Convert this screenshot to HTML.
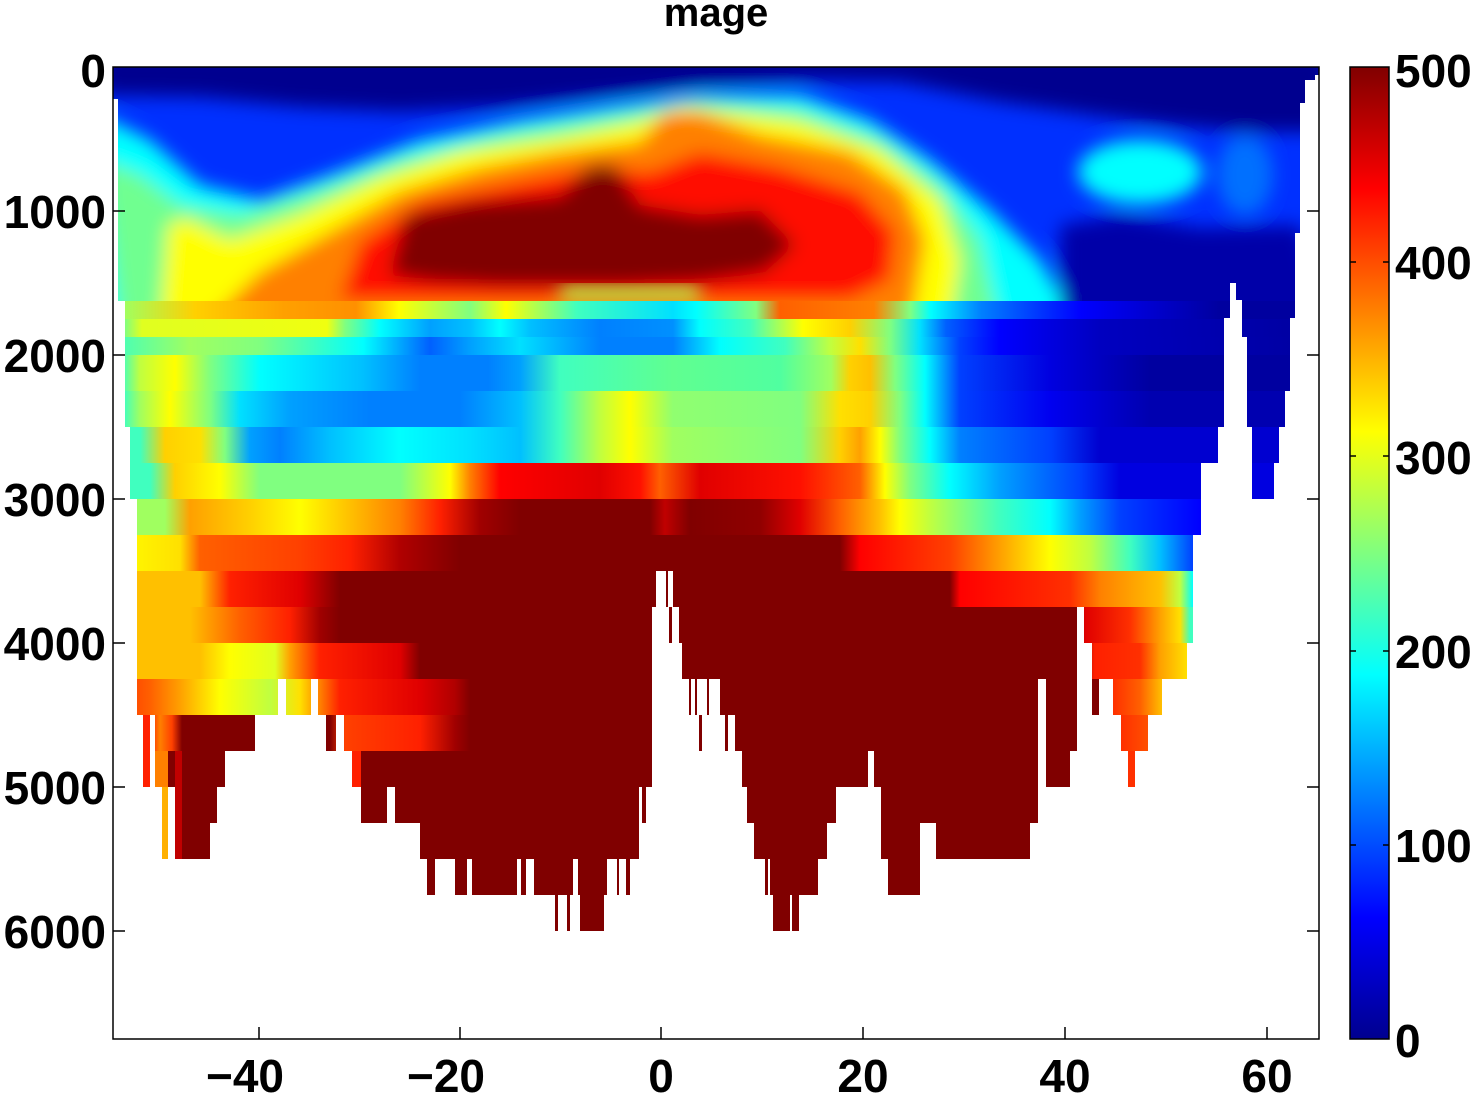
<!DOCTYPE html>
<html><head><meta charset="utf-8"><style>
html,body{margin:0;padding:0;background:#fff;}
svg{display:block;}
text{font-family:"Liberation Sans",Arial,sans-serif;font-weight:bold;fill:#000;}
</style></head><body>
<svg width="1475" height="1094" viewBox="0 0 1475 1094" xmlns="http://www.w3.org/2000/svg">
<defs>
<filter id="bl" x="-20%" y="-20%" width="140%" height="140%"><feGaussianBlur stdDeviation="9"/></filter>
<clipPath id="cu"><rect x="113" y="67" width="1206" height="234"/></clipPath>
<linearGradient id="g1" gradientUnits="userSpaceOnUse" x1="0" y1="0" x2="2000" y2="0">
<stop offset="5.65%" stop-color="#40ffbf"/><stop offset="6.2%" stop-color="#a0ff60"/><stop offset="9.75%" stop-color="#ffd000"/><stop offset="14.2%" stop-color="#ffa000"/><stop offset="17.8%" stop-color="#ff9000"/><stop offset="19.95%" stop-color="#ffff00"/><stop offset="23.5%" stop-color="#80ff80"/><stop offset="25.3%" stop-color="#ffff00"/><stop offset="28.85%" stop-color="#40ffbf"/><stop offset="33.65%" stop-color="#00e0ff"/><stop offset="34.8%" stop-color="#00ffff"/><stop offset="37.8%" stop-color="#80ff80"/><stop offset="39%" stop-color="#ff6000"/><stop offset="43.7%" stop-color="#ff8000"/><stop offset="45.5%" stop-color="#80ff80"/><stop offset="46.55%" stop-color="#00ffff"/><stop offset="49.05%" stop-color="#0080ff"/><stop offset="54.05%" stop-color="#0000ff"/><stop offset="61%" stop-color="#00009f"/></linearGradient>
<linearGradient id="g2" gradientUnits="userSpaceOnUse" x1="0" y1="0" x2="2000" y2="0">
<stop offset="5.65%" stop-color="#40ffbf"/><stop offset="7.1%" stop-color="#e0ff20"/><stop offset="16.35%" stop-color="#f0ff10"/><stop offset="17.25%" stop-color="#80ff80"/><stop offset="19%" stop-color="#00ffff"/><stop offset="21.5%" stop-color="#00a0ff"/><stop offset="23.5%" stop-color="#00c0ff"/><stop offset="25%" stop-color="#00ffff"/><stop offset="26.5%" stop-color="#00c0ff"/><stop offset="30%" stop-color="#0080ff"/><stop offset="33.65%" stop-color="#0090ff"/><stop offset="35%" stop-color="#00ffff"/><stop offset="37.5%" stop-color="#40ffbf"/><stop offset="40.15%" stop-color="#ffff00"/><stop offset="42.5%" stop-color="#ffd000"/><stop offset="44.5%" stop-color="#80ff80"/><stop offset="46%" stop-color="#00e0ff"/><stop offset="47.3%" stop-color="#0060ff"/><stop offset="50%" stop-color="#0000ff"/><stop offset="55%" stop-color="#0000c0"/><stop offset="65.95%" stop-color="#00009f"/></linearGradient>
<linearGradient id="g3" gradientUnits="userSpaceOnUse" x1="0" y1="0" x2="2000" y2="0">
<stop offset="5.65%" stop-color="#40ffbf"/><stop offset="9.5%" stop-color="#a0ff60"/><stop offset="13%" stop-color="#80ff80"/><stop offset="18.15%" stop-color="#00ffff"/><stop offset="21.5%" stop-color="#0060ff"/><stop offset="23.5%" stop-color="#00a0ff"/><stop offset="26%" stop-color="#00e0ff"/><stop offset="30%" stop-color="#0080ff"/><stop offset="33.65%" stop-color="#0080ff"/><stop offset="36%" stop-color="#00ffff"/><stop offset="39.25%" stop-color="#40ffbf"/><stop offset="41.5%" stop-color="#c0ff40"/><stop offset="43%" stop-color="#ffe000"/><stop offset="44.5%" stop-color="#80ff80"/><stop offset="46%" stop-color="#00e0ff"/><stop offset="48%" stop-color="#0040ff"/><stop offset="50%" stop-color="#0000ff"/><stop offset="55%" stop-color="#0000c0"/><stop offset="65.95%" stop-color="#0000a0"/></linearGradient>
<linearGradient id="g4" gradientUnits="userSpaceOnUse" x1="0" y1="0" x2="2000" y2="0">
<stop offset="5.65%" stop-color="#00ffff"/><stop offset="7%" stop-color="#c0ff40"/><stop offset="8.75%" stop-color="#ffff00"/><stop offset="10.5%" stop-color="#80ff80"/><stop offset="13%" stop-color="#00ffff"/><stop offset="18.15%" stop-color="#00c0ff"/><stop offset="21%" stop-color="#0080ff"/><stop offset="24.4%" stop-color="#0080ff"/><stop offset="26%" stop-color="#00a0ff"/><stop offset="28%" stop-color="#40ffbf"/><stop offset="33.65%" stop-color="#60ff90"/><stop offset="39%" stop-color="#50ffa0"/><stop offset="41.55%" stop-color="#a0ff60"/><stop offset="42.5%" stop-color="#ffd000"/><stop offset="43.5%" stop-color="#ffc000"/><stop offset="44.75%" stop-color="#80ff80"/><stop offset="46.25%" stop-color="#00ffff"/><stop offset="48%" stop-color="#0040ff"/><stop offset="52.5%" stop-color="#0000e0"/><stop offset="57.5%" stop-color="#0000a0"/></linearGradient>
<linearGradient id="g5" gradientUnits="userSpaceOnUse" x1="0" y1="0" x2="2000" y2="0">
<stop offset="5.65%" stop-color="#00ffff"/><stop offset="7%" stop-color="#a0ff60"/><stop offset="8.5%" stop-color="#ffff00"/><stop offset="10.5%" stop-color="#80ff80"/><stop offset="12%" stop-color="#00e0ff"/><stop offset="14.5%" stop-color="#00a0ff"/><stop offset="18.5%" stop-color="#0080ff"/><stop offset="23%" stop-color="#0080ff"/><stop offset="26%" stop-color="#00c0ff"/><stop offset="28%" stop-color="#40ffbf"/><stop offset="30%" stop-color="#c0ff40"/><stop offset="31.5%" stop-color="#ffff00"/><stop offset="33.65%" stop-color="#90ff70"/><stop offset="40%" stop-color="#80ff80"/><stop offset="42%" stop-color="#ffe000"/><stop offset="43.5%" stop-color="#ffd000"/><stop offset="45%" stop-color="#80ff80"/><stop offset="46.25%" stop-color="#00ffff"/><stop offset="48%" stop-color="#0040ff"/><stop offset="52.5%" stop-color="#0000f0"/><stop offset="57.5%" stop-color="#0000b0"/></linearGradient>
<linearGradient id="g6" gradientUnits="userSpaceOnUse" x1="0" y1="0" x2="2000" y2="0">
<stop offset="5.65%" stop-color="#40ffbf"/><stop offset="7%" stop-color="#40ffbf"/><stop offset="8.25%" stop-color="#ffd000"/><stop offset="10%" stop-color="#ffe000"/><stop offset="11.25%" stop-color="#80ff80"/><stop offset="12.5%" stop-color="#00a0ff"/><stop offset="14%" stop-color="#0080ff"/><stop offset="16.5%" stop-color="#00c0ff"/><stop offset="20%" stop-color="#00ffff"/><stop offset="23.5%" stop-color="#00e0ff"/><stop offset="26%" stop-color="#00c0ff"/><stop offset="28%" stop-color="#40ffbf"/><stop offset="30%" stop-color="#c0ff40"/><stop offset="31.5%" stop-color="#ffff00"/><stop offset="33.65%" stop-color="#a0ff60"/><stop offset="40%" stop-color="#80ff80"/><stop offset="42%" stop-color="#ffd000"/><stop offset="43%" stop-color="#ffa000"/><stop offset="44%" stop-color="#ffff00"/><stop offset="45%" stop-color="#80ff80"/><stop offset="46.5%" stop-color="#00ffff"/><stop offset="48%" stop-color="#0080ff"/><stop offset="52.5%" stop-color="#0040ff"/><stop offset="55%" stop-color="#0000d0"/></linearGradient>
<linearGradient id="g7" gradientUnits="userSpaceOnUse" x1="0" y1="0" x2="2000" y2="0">
<stop offset="5.65%" stop-color="#40ffbf"/><stop offset="7.5%" stop-color="#40ffbf"/><stop offset="8.75%" stop-color="#ffd000"/><stop offset="11%" stop-color="#ffff00"/><stop offset="13%" stop-color="#80ff80"/><stop offset="20%" stop-color="#80ff80"/><stop offset="22.5%" stop-color="#ffff00"/><stop offset="23.5%" stop-color="#ff8000"/><stop offset="25%" stop-color="#ff0000"/><stop offset="30%" stop-color="#e00000"/><stop offset="32%" stop-color="#ff1000"/><stop offset="33%" stop-color="#ff6000"/><stop offset="35%" stop-color="#e00000"/><stop offset="40%" stop-color="#ff1000"/><stop offset="43%" stop-color="#ff6000"/><stop offset="44.25%" stop-color="#ffff00"/><stop offset="45.5%" stop-color="#80ff80"/><stop offset="47.5%" stop-color="#00ffff"/><stop offset="50%" stop-color="#00a0ff"/><stop offset="54%" stop-color="#0040ff"/><stop offset="56%" stop-color="#0000e0"/></linearGradient>
<linearGradient id="g8" gradientUnits="userSpaceOnUse" x1="0" y1="0" x2="2000" y2="0">
<stop offset="5.65%" stop-color="#a0ff60"/><stop offset="8.25%" stop-color="#a0ff60"/><stop offset="9.5%" stop-color="#ffa000"/><stop offset="12.5%" stop-color="#ffd000"/><stop offset="15%" stop-color="#ffff00"/><stop offset="17.5%" stop-color="#ffc000"/><stop offset="20%" stop-color="#ff8000"/><stop offset="22%" stop-color="#ff2000"/><stop offset="24%" stop-color="#a00000"/><stop offset="26%" stop-color="#800000"/><stop offset="32.5%" stop-color="#800000"/><stop offset="33.25%" stop-color="#c00000"/><stop offset="34.5%" stop-color="#800000"/><stop offset="38%" stop-color="#900000"/><stop offset="40%" stop-color="#e00000"/><stop offset="42%" stop-color="#ff6000"/><stop offset="44%" stop-color="#ffc000"/><stop offset="45%" stop-color="#ffff00"/><stop offset="46.5%" stop-color="#c0ff40"/><stop offset="50%" stop-color="#40ffbf"/><stop offset="52.5%" stop-color="#00ffff"/><stop offset="54%" stop-color="#00a0ff"/><stop offset="56%" stop-color="#0040ff"/><stop offset="60%" stop-color="#0000ff"/></linearGradient>
<linearGradient id="g9" gradientUnits="userSpaceOnUse" x1="0" y1="0" x2="2000" y2="0">
<stop offset="5.65%" stop-color="#ffff00"/><stop offset="9%" stop-color="#ffe000"/><stop offset="10%" stop-color="#ff6000"/><stop offset="15%" stop-color="#ff4000"/><stop offset="17.5%" stop-color="#ff2000"/><stop offset="20%" stop-color="#b00000"/><stop offset="23%" stop-color="#800000"/><stop offset="42%" stop-color="#800000"/><stop offset="43%" stop-color="#ff0000"/><stop offset="47.5%" stop-color="#ff4000"/><stop offset="50%" stop-color="#ffa000"/><stop offset="52.5%" stop-color="#ffff00"/><stop offset="54.5%" stop-color="#c0ff40"/><stop offset="56.5%" stop-color="#40ffbf"/><stop offset="58%" stop-color="#00c0ff"/><stop offset="59.65%" stop-color="#0040ff"/></linearGradient>
<linearGradient id="g10" gradientUnits="userSpaceOnUse" x1="0" y1="0" x2="2000" y2="0">
<stop offset="5.65%" stop-color="#ffc000"/><stop offset="10%" stop-color="#ffc000"/><stop offset="11.5%" stop-color="#ff2000"/><stop offset="15%" stop-color="#e00000"/><stop offset="17%" stop-color="#800000"/><stop offset="47.5%" stop-color="#800000"/><stop offset="48%" stop-color="#ff0000"/><stop offset="53.5%" stop-color="#ff3000"/><stop offset="55%" stop-color="#ff8000"/><stop offset="58%" stop-color="#ffc000"/><stop offset="59%" stop-color="#c0ff40"/><stop offset="59.65%" stop-color="#00ffff"/></linearGradient>
<linearGradient id="g11" gradientUnits="userSpaceOnUse" x1="0" y1="0" x2="2000" y2="0">
<stop offset="5.65%" stop-color="#ffc000"/><stop offset="9.5%" stop-color="#ffc000"/><stop offset="12%" stop-color="#ff6000"/><stop offset="14.5%" stop-color="#ff2000"/><stop offset="16%" stop-color="#a00000"/><stop offset="17%" stop-color="#800000"/><stop offset="53.85%" stop-color="#800000"/><stop offset="54.25%" stop-color="#e00000"/><stop offset="56.5%" stop-color="#ff3000"/><stop offset="58%" stop-color="#ffa000"/><stop offset="59%" stop-color="#ffe000"/><stop offset="59.5%" stop-color="#40ffbf"/></linearGradient>
<linearGradient id="g12" gradientUnits="userSpaceOnUse" x1="0" y1="0" x2="2000" y2="0">
<stop offset="5.65%" stop-color="#ffc000"/><stop offset="10%" stop-color="#ffc000"/><stop offset="11.5%" stop-color="#ffff00"/><stop offset="13.75%" stop-color="#e0ff20"/><stop offset="14.5%" stop-color="#ffa000"/><stop offset="16%" stop-color="#ff2000"/><stop offset="20%" stop-color="#e00000"/><stop offset="21%" stop-color="#800000"/><stop offset="53.85%" stop-color="#800000"/><stop offset="54.75%" stop-color="#ff2000"/><stop offset="57%" stop-color="#ff3000"/><stop offset="58%" stop-color="#ffa000"/><stop offset="59.35%" stop-color="#ffe000"/></linearGradient>
<linearGradient id="g13" gradientUnits="userSpaceOnUse" x1="0" y1="0" x2="2000" y2="0">
<stop offset="5.65%" stop-color="#ff3000"/><stop offset="7.5%" stop-color="#ff6000"/><stop offset="9%" stop-color="#ffa000"/><stop offset="11%" stop-color="#ffff00"/><stop offset="13.5%" stop-color="#c0ff40"/><stop offset="15%" stop-color="#ffe000"/><stop offset="16%" stop-color="#ff8000"/><stop offset="17%" stop-color="#ff2000"/><stop offset="21%" stop-color="#e00000"/><stop offset="22.75%" stop-color="#b00000"/><stop offset="23.5%" stop-color="#800000"/><stop offset="55%" stop-color="#800000"/><stop offset="55.65%" stop-color="#ff3000"/><stop offset="57%" stop-color="#ff6000"/><stop offset="58.1%" stop-color="#ffc000"/></linearGradient>
<linearGradient id="g14" gradientUnits="userSpaceOnUse" x1="0" y1="0" x2="2000" y2="0">
<stop offset="5.65%" stop-color="#ff2000"/><stop offset="7.5%" stop-color="#ff2000"/><stop offset="8%" stop-color="#ff8000"/><stop offset="8.6%" stop-color="#ff4000"/><stop offset="9.1%" stop-color="#800000"/><stop offset="16.5%" stop-color="#800000"/><stop offset="17.25%" stop-color="#ff4000"/><stop offset="21%" stop-color="#ff2000"/><stop offset="22.75%" stop-color="#a00000"/><stop offset="23.5%" stop-color="#800000"/><stop offset="55%" stop-color="#800000"/><stop offset="56.05%" stop-color="#ff3000"/><stop offset="57.4%" stop-color="#ff5000"/></linearGradient>
<linearGradient id="cb" x1="0" y1="0" x2="0" y2="1">
<stop offset="0" stop-color="#800000"/><stop offset="0.125" stop-color="#ff0000"/><stop offset="0.375" stop-color="#ffff00"/><stop offset="0.625" stop-color="#00ffff"/><stop offset="0.875" stop-color="#0000ff"/><stop offset="1" stop-color="#00008f"/></linearGradient>
</defs>

<g clip-path="url(#cu)">
<rect x="100" y="60" width="1230" height="260" fill="#0030ff"/>
<g filter="url(#bl)">
<polygon fill="#00ffff" points="100,115 150,140 200,185 260,200 330,175 420,140 520,120 620,105 700,95 800,95 870,120 930,160 990,210 1040,260 1080,330 100,330"/>
<polygon fill="#70ff90" points="100,160 140,175 180,205 240,215 320,190 400,160 500,135 620,115 700,102 800,110 880,140 940,185 980,240 1000,330 120,330"/>
<polygon fill="#ffff00" points="160,330 168,225 185,218 230,240 300,215 380,178 460,152 560,138 640,122 680,105 720,112 800,122 880,150 940,200 960,260 950,330"/>
<polygon fill="#ff8000" points="200,330 260,272 330,232 400,192 480,168 560,152 640,142 665,112 700,112 760,135 850,152 905,190 925,240 910,330"/>
<polygon fill="#ff1000" points="340,300 360,242 420,202 520,182 600,167 650,172 700,152 780,167 860,192 895,232 890,280 850,300"/>
<polygon fill="#800000" points="390,275 405,215 470,202 560,196 590,165 615,165 640,205 700,215 760,210 795,245 765,272 700,282 620,286 500,286 430,282"/>
<ellipse cx="1140" cy="172" rx="62" ry="32" fill="#00ffff"/>
<ellipse cx="1245" cy="175" rx="28" ry="40" fill="#0070ff"/>
<polygon fill="#0000a8" points="1060,225 1120,215 1200,228 1300,225 1330,330 1060,330"/>
<polygon fill="#00008f" points="100,50 1330,50 1330,132 1250,132 1180,126 1100,116 1000,102 900,82 800,80 700,87 600,97 500,107 400,112 300,107 200,97 100,95"/>
</g>
<rect x="560" y="286" width="140" height="15" fill="#b0ff50" filter="url(#bl)"/>
</g>

<rect x="113" y="301" width="1206" height="18" fill="url(#g1)"/>
<rect x="113" y="319" width="1206" height="18" fill="url(#g2)"/>
<rect x="113" y="337" width="1206" height="18" fill="url(#g3)"/>
<rect x="113" y="355" width="1206" height="36" fill="url(#g4)"/>
<rect x="113" y="391" width="1206" height="36" fill="url(#g5)"/>
<rect x="113" y="427" width="1206" height="36" fill="url(#g6)"/>
<rect x="113" y="463" width="1206" height="36" fill="url(#g7)"/>
<rect x="113" y="499" width="1206" height="36" fill="url(#g8)"/>
<rect x="113" y="535" width="1206" height="36" fill="url(#g9)"/>
<rect x="113" y="571" width="1206" height="36" fill="url(#g10)"/>
<rect x="113" y="607" width="1206" height="36" fill="url(#g11)"/>
<rect x="113" y="643" width="1206" height="36" fill="url(#g12)"/>
<rect x="113" y="679" width="1206" height="36" fill="url(#g13)"/>
<rect x="113" y="715" width="1206" height="36" fill="url(#g14)"/>
<rect x="113" y="751" width="1206" height="144" fill="#800000"/>
<rect x="143" y="751" width="7" height="36" fill="#ff2000"/>
<rect x="155" y="751" width="13" height="36" fill="#ff8000"/>
<rect x="162" y="787" width="6" height="72" fill="#ffb000"/>
<rect x="175" y="751" width="7" height="108" fill="#c00000"/>
<rect x="352" y="751" width="9" height="36" fill="#ff2000"/>
<rect x="1128" y="751" width="7" height="36" fill="#ff3000"/>

<g fill="#fff">
<rect x="113" y="99" width="5" height="202"/>
<rect x="113" y="301" width="12" height="126"/>
<rect x="113" y="427" width="17" height="72"/>
<rect x="113" y="499" width="24" height="216"/>
<rect x="113" y="715" width="30" height="72"/>
<rect x="150" y="715" width="5" height="72"/>
<rect x="113" y="787" width="49" height="72"/>
<rect x="168" y="787" width="7" height="72"/>
<rect x="113" y="895" width="1206" height="144"/>
<rect x="113" y="859" width="314" height="36"/>
<rect x="435" y="859" width="20" height="36"/>
<rect x="467" y="859" width="5" height="36"/>
<rect x="517" y="859" width="4" height="36"/>
<rect x="526" y="859" width="8" height="36"/>
<rect x="573" y="859" width="5" height="36"/>
<rect x="607" y="859" width="10" height="36"/>
<rect x="619" y="859" width="7" height="36"/>
<rect x="630" y="859" width="135" height="36"/>
<rect x="768" y="859" width="2" height="36"/>
<rect x="818" y="859" width="70" height="36"/>
<rect x="920" y="859" width="399" height="36"/>
<rect x="1315" y="75" width="4" height="5"/>
<rect x="1305" y="80" width="14" height="23"/>
<rect x="1300" y="103" width="19" height="130"/>
<rect x="1295" y="233" width="24" height="85"/>
<rect x="1290" y="318" width="29" height="73"/>
<rect x="1285" y="391" width="34" height="36"/>
<rect x="1279" y="427" width="40" height="36"/>
<rect x="1274" y="463" width="45" height="36"/>
<rect x="1230" y="283" width="6" height="17"/>
<rect x="1230" y="300" width="12" height="18"/>
<rect x="1224" y="318" width="18" height="19"/>
<rect x="1224" y="337" width="23" height="90"/>
<rect x="1218" y="427" width="34" height="36"/>
<rect x="1201" y="463" width="51" height="36"/>
<rect x="1201" y="499" width="118" height="36"/>
<rect x="1193" y="535" width="126" height="108"/>
<rect x="1187" y="643" width="132" height="36"/>
<rect x="1162" y="679" width="157" height="36"/>
<rect x="1148" y="715" width="171" height="36"/>
<rect x="1135" y="751" width="184" height="36"/>
<rect x="1038" y="787" width="281" height="36"/>
<rect x="1030" y="823" width="289" height="36"/>
<rect x="1077" y="607" width="7" height="36"/>
<rect x="1077" y="643" width="15" height="36"/>
<rect x="1077" y="679" width="15" height="36"/>
<rect x="1099" y="679" width="14" height="36"/>
<rect x="1038" y="679" width="8" height="108"/>
<rect x="1077" y="715" width="44" height="36"/>
<rect x="1070" y="751" width="58" height="36"/>
<rect x="920" y="823" width="16" height="36"/>
<rect x="868" y="751" width="6" height="36"/>
<rect x="836" y="787" width="45" height="36"/>
<rect x="827" y="823" width="54" height="36"/>
<rect x="656" y="571" width="17" height="36"/>
<rect x="652" y="607" width="27" height="36"/>
<rect x="652" y="643" width="30" height="36"/>
<rect x="652" y="679" width="68" height="36"/>
<rect x="652" y="715" width="83" height="36"/>
<rect x="652" y="751" width="90" height="36"/>
<rect x="639" y="787" width="3" height="36"/>
<rect x="646" y="787" width="101" height="36"/>
<rect x="639" y="823" width="115" height="36"/>
<rect x="278" y="679" width="8" height="36"/>
<rect x="311" y="679" width="7" height="36"/>
<rect x="255" y="715" width="71" height="36"/>
<rect x="336" y="715" width="8" height="36"/>
<rect x="225" y="751" width="127" height="36"/>
<rect x="217" y="787" width="144" height="36"/>
<rect x="387" y="787" width="8" height="36"/>
<rect x="210" y="823" width="210" height="36"/>
</g>
<g fill="#800000">
<rect x="666" y="571" width="2" height="36"/>
<rect x="669" y="607" width="3" height="36"/>
<rect x="689" y="679" width="2" height="36"/>
<rect x="695" y="679" width="2" height="36"/>
<rect x="707" y="679" width="2" height="36"/>
<rect x="699" y="715" width="3" height="36"/>
<rect x="725" y="715" width="3" height="36"/>
<rect x="555" y="895" width="3" height="36"/>
<rect x="567" y="895" width="3" height="36"/>
<rect x="580" y="895" width="24" height="36"/>
<rect x="773" y="895" width="17" height="36"/>
<rect x="792" y="895" width="7" height="36"/>
</g>

<rect x="113" y="67" width="1206" height="972" fill="none" stroke="#000" stroke-width="1.5"/>
<g stroke="#000" stroke-width="1.5">
<line x1="113" y1="211" x2="125" y2="211"/><line x1="113" y1="355" x2="125" y2="355"/><line x1="113" y1="499" x2="125" y2="499"/><line x1="113" y1="643" x2="125" y2="643"/><line x1="113" y1="787" x2="125" y2="787"/><line x1="113" y1="931" x2="125" y2="931"/>
<line x1="1307" y1="211" x2="1319" y2="211"/><line x1="1307" y1="355" x2="1319" y2="355"/><line x1="1307" y1="499" x2="1319" y2="499"/><line x1="1307" y1="643" x2="1319" y2="643"/><line x1="1307" y1="787" x2="1319" y2="787"/><line x1="1307" y1="931" x2="1319" y2="931"/>
<line x1="259" y1="1027" x2="259" y2="1039"/><line x1="460" y1="1027" x2="460" y2="1039"/><line x1="661" y1="1027" x2="661" y2="1039"/><line x1="863" y1="1027" x2="863" y2="1039"/><line x1="1065" y1="1027" x2="1065" y2="1039"/><line x1="1267" y1="1027" x2="1267" y2="1039"/>
</g>
<g font-size="46" text-anchor="end">
<text x="106" y="87">0</text><text x="106" y="228">1000</text><text x="106" y="372">2000</text><text x="106" y="516">3000</text><text x="106" y="660">4000</text><text x="106" y="804">5000</text><text x="106" y="948">6000</text>
</g>
<g font-size="46" text-anchor="middle">
<text x="245" y="1092">−40</text><text x="446" y="1092">−20</text><text x="661" y="1092">0</text><text x="863" y="1092">20</text><text x="1065" y="1092">40</text><text x="1267" y="1092">60</text>
<text x="716" y="26" font-size="40">mage</text>
</g>

<rect x="1350" y="67" width="39" height="972" fill="url(#cb)" stroke="#000" stroke-width="1.5"/>
<g stroke="#000" stroke-width="1.5">
<line x1="1350" y1="262" x2="1356" y2="262"/><line x1="1383" y1="262" x2="1389" y2="262"/>
<line x1="1350" y1="456" x2="1356" y2="456"/><line x1="1383" y1="456" x2="1389" y2="456"/>
<line x1="1350" y1="651" x2="1356" y2="651"/><line x1="1383" y1="651" x2="1389" y2="651"/>
<line x1="1350" y1="845" x2="1356" y2="845"/><line x1="1383" y1="845" x2="1389" y2="845"/>
</g>
<g font-size="46">
<text x="1395" y="87">500</text><text x="1395" y="279">400</text><text x="1395" y="474">300</text><text x="1395" y="668">200</text><text x="1395" y="862">100</text><text x="1395" y="1057">0</text>
</g>
</svg>
</body></html>
